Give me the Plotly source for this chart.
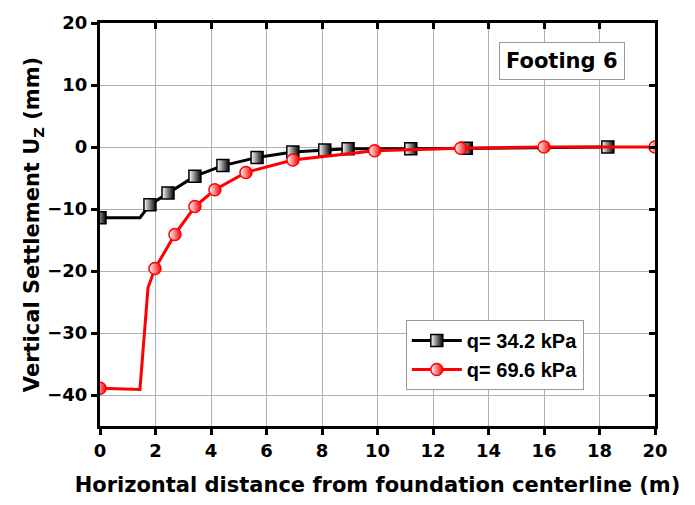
import plotly.graph_objects as go

# Data
x_q1 = [0, 1.44, 1.8, 2.45, 3.42, 4.43, 5.66, 6.95, 8.1, 8.94, 11.2, 13.2, 18.3]
y_q1 = [-11.4, -11.4, -9.3, -7.4, -4.7, -3.0, -1.7, -0.8, -0.5, -0.3, -0.3, -0.2, 0.0]
m_q1 = [True, False, True, True, True, True, True, True, True, True, True, True, True]

x_q2 = [0, 1.44, 1.73, 1.98, 2.7, 3.42, 4.14, 5.26, 6.95, 9.9, 13.0, 16.0, 20.0]
y_q2 = [-38.9, -39.1, -22.7, -19.6, -14.1, -9.6, -6.9, -4.1, -2.1, -0.6, -0.2, 0.0, 0.0]
m_q2 = [True, False, False, True, True, True, True, True, True, True, True, True, True]

names = ["q= 34.2 kPa", "q= 69.6 kPa"]
x_ticks = [0, 2, 4, 6, 8, 10, 12, 14, 16, 18, 20]
y_ticks = [-40, -30, -20, -10, 0, 10, 20]

tick_font = dict(family="DejaVu Sans", size=18, color="black", weight="bold")
title_font = dict(family="DejaVu Sans", size=21, color="black", weight="bold")

fig = go.Figure()

def add_series(xs, ys, ms, name, color, symbol):
    mk = dict(symbol=symbol, size=12, color="white",
              gradient=dict(type="horizontal", color=color),
              line=dict(color=color, width=1.5))
    fig.add_trace(go.Scatter(
        x=xs, y=ys, mode="lines", line=dict(color=color, width=3),
        showlegend=False, hoverinfo="skip"))
    xm = [x for x, m in zip(xs, ms) if m]
    ym = [y for y, m in zip(ys, ms) if m]
    fig.add_trace(go.Scatter(x=xm, y=ym, mode="markers", marker=mk,
                             showlegend=False, name=name))
    fig.add_trace(go.Scatter(x=[None], y=[None], mode="lines+markers", name=name,
                             line=dict(color=color, width=3), marker=mk))

add_series(x_q1, y_q1, m_q1, names[0], "black", "square")
add_series(x_q2, y_q2, m_q2, names[1], "#ff0000", "circle")

axis_common = dict(showline=True, linecolor="black", linewidth=3,
                   showgrid=True, gridcolor="#b0b0b0", gridwidth=1,
                   ticks="outside", ticklen=6, tickwidth=3, tickcolor="black",
                   zeroline=False, tickfont=tick_font)

fig.update_layout(
    width=695, height=505,
    margin=dict(l=100, r=40, t=18, b=73),
    paper_bgcolor="white", plot_bgcolor="white",
    xaxis=dict(range=[0, 20], tickvals=x_ticks, **axis_common,
               title=dict(text="Horizontal distance from foundation centerline (m)",
                          font=title_font, standoff=18)),
    yaxis=dict(range=[-45, 20], tickvals=y_ticks, **axis_common,
               title=dict(text="Vertical Settlement U<sub>Z</sub> (mm)",
                          font=title_font, standoff=2)),
    xaxis2=dict(range=[0, 20], tickvals=x_ticks, overlaying="x", side="top",
                showline=True, linecolor="black", linewidth=3, showgrid=False,
                ticks="inside", ticklen=6, tickwidth=3, tickcolor="black",
                showticklabels=False, zeroline=False),
    yaxis2=dict(range=[-45, 20], tickvals=y_ticks, overlaying="y", side="right",
                showline=True, linecolor="black", linewidth=3, showgrid=False,
                ticks="inside", ticklen=6, tickwidth=3, tickcolor="black",
                showticklabels=False, zeroline=False),
    legend=dict(x=0.551, y=0.263, xanchor="left", yanchor="top",
                bgcolor="white", bordercolor="#999999", borderwidth=1,
                font=dict(family="Liberation Sans", size=20, color="black", weight="bold"),
                tracegroupgap=0, itemwidth=50),
    annotations=[dict(x=16.65, y=13.9, xref="x", yref="y", text="Footing 6",
                      showarrow=False, font=dict(family="DejaVu Sans", size=21,
                                                 color="black", weight="bold"),
                      bordercolor="#999999", borderwidth=1, borderpad=6,
                      bgcolor="white")],
)

# dummy trace to activate the mirrored axes
fig.add_trace(go.Scatter(x=[None], y=[None], xaxis="x2", yaxis="y2",
                         showlegend=False, hoverinfo="skip"))

fig.write_html("out.html")
